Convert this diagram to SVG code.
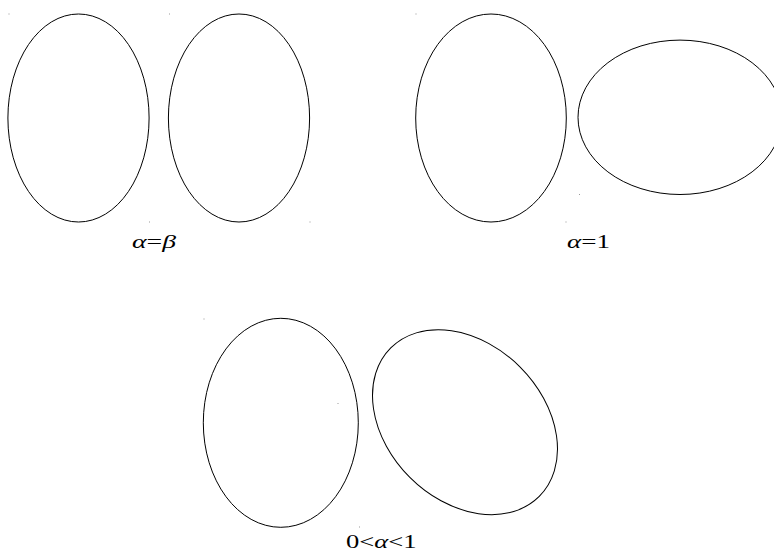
<svg xmlns="http://www.w3.org/2000/svg" width="774" height="552" viewBox="0 0 774 552">
<style>
.sh{fill:none;stroke:#000;stroke-width:1}
.lb{font-family:"Liberation Serif","DejaVu Serif",serif;font-size:19px;fill:#000}
.it{font-style:italic}
.dot{fill:#999}
</style>
<rect width="774" height="552" fill="#fff"/>
<g id="marks">
<rect class="dot" x="8.5" y="13.5" width="1" height="1"/>
<rect class="dot" x="169" y="13.5" width="1" height="1"/>
<rect class="dot" x="415.5" y="13.5" width="1" height="1"/>
<rect class="dot" x="149" y="221.5" width="1" height="1"/>
<rect class="dot" x="309.5" y="221.5" width="1" height="1"/>
<rect class="dot" x="565.5" y="221.5" width="1" height="1"/>
<rect class="dot" x="579" y="194" width="1" height="1"/>
<rect class="dot" x="203.5" y="318.5" width="1" height="1"/>
<rect class="dot" x="337.5" y="403" width="1" height="1"/>
<rect class="dot" x="359" y="526.5" width="1" height="1"/>
</g>
<g id="case-alpha-beta">
<ellipse id="e1" class="sh" cx="78.5" cy="118" rx="70.6" ry="104"/>
<ellipse id="e2" class="sh" cx="239" cy="118" rx="70.6" ry="104"/>
<text class="lb" x="132" y="247.5" textLength="44" lengthAdjust="spacingAndGlyphs"><tspan class="it">α</tspan>=<tspan class="it">β</tspan></text>
</g>
<g id="case-alpha-1">
<ellipse id="e3" class="sh" cx="491" cy="118" rx="75.3" ry="104"/>
<ellipse id="e4" class="sh" cx="680" cy="117.3" rx="102" ry="77.2"/>
<text class="lb" x="567" y="247.5" textLength="43" lengthAdjust="spacingAndGlyphs"><tspan class="it">α</tspan>=1</text>
</g>
<g id="case-alpha-between">
<ellipse id="e5" class="sh" cx="280.8" cy="422.8" rx="77.5" ry="104.5"/>
<ellipse id="e6" class="sh" cx="465" cy="422.2" rx="105" ry="78" transform="rotate(45 465 422.2)"/>
<text class="lb" x="346" y="548" textLength="70.5" lengthAdjust="spacingAndGlyphs">0&lt;<tspan class="it">α</tspan>&lt;1</text>
</g>
</svg>
